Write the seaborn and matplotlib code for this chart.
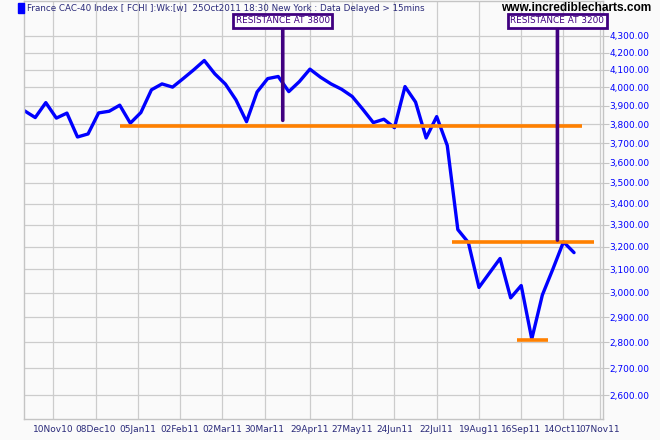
import matplotlib
matplotlib.use('Agg')
import matplotlib.pyplot as plt
import matplotlib.patches as mpatches
import pandas as pd
import seaborn as sns

# weekly closes of the CAC-40 (first bar is Fri 22 Oct 2010)
first_week = '2010-10-22'
closes = [3871, 3835, 3916, 3832, 3859, 3732, 3748, 3860, 3869, 3902,
          3805, 3862, 3987, 4020, 4002, 4050, 4100, 4154, 4077, 4019,
          3931, 3813, 3975, 4050, 4062, 3977, 4033, 4104, 4058, 4020,
          3990, 3950, 3880, 3808, 3826, 3781, 4005, 3919, 3727, 3840,
          3688, 3278, 3219, 3023, 3085, 3148, 2979, 3031, 2812, 2991,
          3102, 3222, 3174]

tick_labels = ['10Nov10', '08Dec10', '05Jan11', '02Feb11', '02Mar11',
               '30Mar11', '29Apr11', '27May11', '24Jun11', '22Jul11',
               '19Aug11', '16Sep11', '14Oct11', '07Nov11']
y_levels = [2600, 2700, 2800, 2900, 3000, 3100, 3200, 3300, 3400,
            3500, 3600, 3700, 3800, 3900, 4000, 4100, 4200, 4300]

# orange support / resistance lines
line_starts = ['2010-12-24', '2011-08-01', '2011-09-13']
line_ends = ['2011-10-26', '2011-11-03', '2011-10-04']
line_levels = [3790, 3220, 2807]

# boxed notes with a pointer down into the chart
note_texts = ['RESISTANCE AT 3800', 'RESISTANCE AT 3200']
note_dates = ['2011-04-11', '2011-10-10']
note_levels = [3820, 3230]

title = ('France CAC-40 Index [ FCHI ]:Wk:[w]  25Oct2011 18:30 '
         'New York : Data Delayed > 15mins')

df = pd.DataFrame({
    'week': pd.date_range(first_week, periods=len(closes), freq='7D'),
    'close': closes,
})

sns.set_style('white', {'axes.facecolor': '#fafafa',
                        'figure.facecolor': '#fafafa',
                        'axes.edgecolor': '#c4c4c4'})
plt.rcParams['font.family'] = ['DejaVu Sans']

fig = plt.figure(figsize=(6.6, 4.4), dpi=100)
ax = fig.add_axes([0.0368, 0.047, 0.8764, 0.9507])

sns.lineplot(data=df, x='week', y='close', color='#0000ff', lw=2.4,
             ax=ax, zorder=2, legend=False)

ax.hlines(line_levels, pd.to_datetime(line_starts), pd.to_datetime(line_ends),
          colors='#ff8000', lw=2.6, zorder=3)

for text, when, level in zip(note_texts, note_dates, note_levels):
    ax.annotate(text, xy=(pd.Timestamp(when), level),
                xytext=(pd.Timestamp(when), 0.953),
                textcoords=('data', 'axes fraction'),
                ha='center', va='center', fontsize=6.4, color='#400080',
                bbox=dict(boxstyle='square,pad=0.3', fc='white',
                          ec='#400080', lw=2),
                arrowprops=dict(arrowstyle='-', color='#400080', lw=2.6,
                                shrinkA=0, shrinkB=0),
                zorder=5)

ax.set_yscale('log')
ax.set_ylim(2513, 4515)
ax.set_yticks(y_levels, [f'{v:,.2f}' for v in y_levels])
ax.minorticks_off()
ax.yaxis.tick_right()

tick_dates = pd.to_datetime(tick_labels, format='%d%b%y')
ax.set_xticks(tick_dates, tick_labels)
ax.set_xlim(pd.Timestamp('2010-10-21 18:00'), pd.Timestamp('2011-11-09'))

ax.tick_params(axis='y', length=4, width=0.8, color='#c4c4c4',
               labelcolor='#0000ff', labelsize=6.5, pad=1)
ax.tick_params(axis='x', length=0, labelcolor='#2a2a7a', labelsize=6.5,
               pad=4)
ax.set_xlabel('')
ax.set_ylabel('')

ax.grid(True, color='#cccccc', lw=0.9)
ax.set_axisbelow(True)
for side in ['left', 'right', 'bottom', 'top']:
    ax.spines[side].set_color('#c4c4c4')
    ax.spines[side].set_linewidth(1)

handle = mpatches.FancyBboxPatch((0, 0), 1, 1, color='#0000ff')
fig.legend([handle], [title], loc='upper left',
           bbox_to_anchor=(0.028, 0.993), frameon=False, fontsize=6.3,
           labelcolor='#2a2a7a', handlelength=0.65, handleheight=1.3,
           handletextpad=0.35, borderpad=0, borderaxespad=0)

fig.text(0.987, 0.995, 'www.incrediblecharts.com', ha='right', va='top',
         fontsize=8.6, weight='bold', color='black',
         family=['Liberation Sans', 'DejaVu Sans'])

fig.savefig('out.png', dpi=100)
